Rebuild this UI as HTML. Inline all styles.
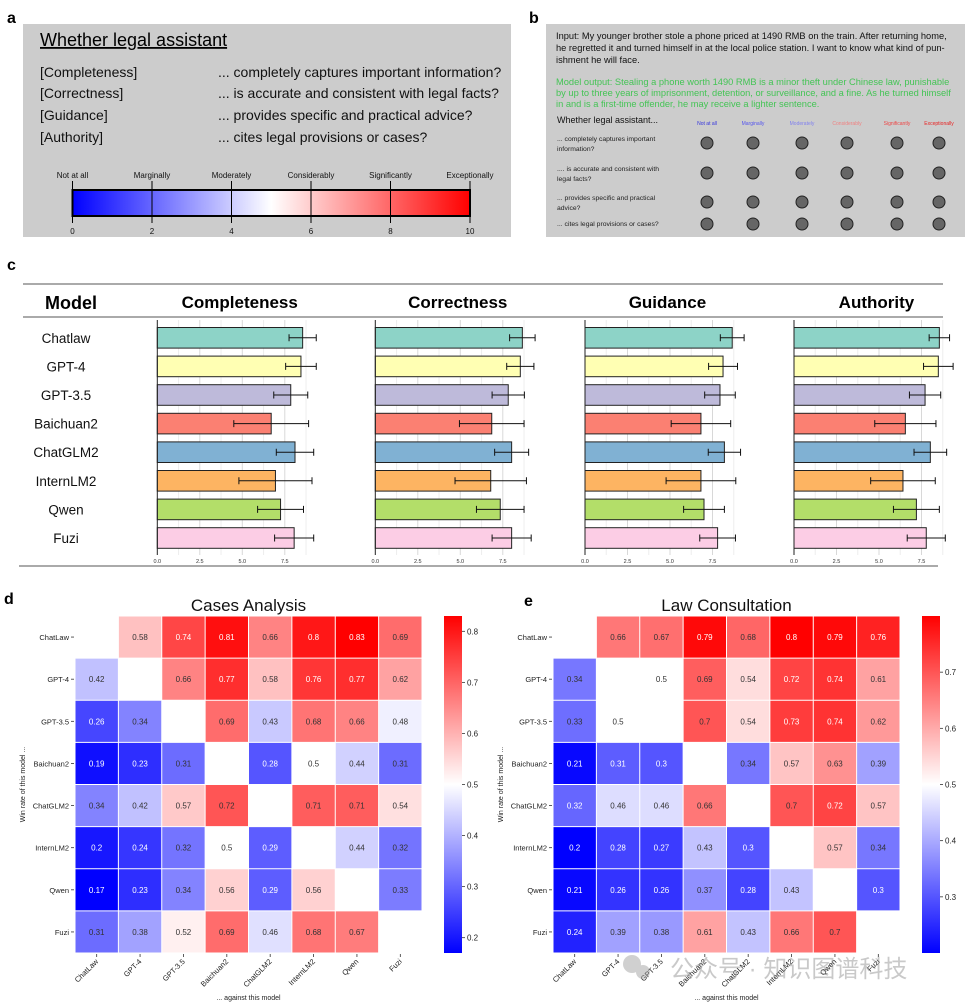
<!DOCTYPE html>
<html><head><meta charset="utf-8"><style>
html,body{margin:0;padding:0;background:#fff;}
svg{display:block;font-family:"Liberation Sans","Noto Sans CJK SC",sans-serif;}
</style></head><body>
<svg id="fig" width="967" height="1006" viewBox="0 0 967 1006" xmlns="http://www.w3.org/2000/svg">
<defs>
<linearGradient id="bwrH" x1="0" x2="1" y1="0" y2="0"><stop offset="0" stop-color="#0000ff"/><stop offset="0.5" stop-color="#ffffff"/><stop offset="1" stop-color="#ff0000"/></linearGradient>
<linearGradient id="bwrV" x1="0" x2="0" y1="1" y2="0"><stop offset="0" stop-color="#0000ff"/><stop offset="0.5" stop-color="#ffffff"/><stop offset="1" stop-color="#ff0000"/></linearGradient>
</defs>
<!-- Panel a -->
<text x="7" y="23" font-size="16" font-weight="bold">a</text>
<rect x="23" y="24" width="488" height="213" fill="#cccccc"/>
<text x="40" y="46" font-size="18" text-decoration="underline">Whether legal assistant</text>
<g font-size="14" fill="#111">
<text x="40" y="77">[Completeness]</text><text x="218" y="77">... completely captures important information?</text>
<text x="40" y="98">[Correctness]</text><text x="218" y="98">... is accurate and consistent with legal facts?</text>
<text x="40" y="120">[Guidance]</text><text x="218" y="120">... provides specific and practical advice?</text>
<text x="40" y="142">[Authority]</text><text x="218" y="142">... cites legal provisions or cases?</text>
</g>
<g id="scaleA"></g>
<!-- Panel b -->
<text x="529" y="23" font-size="16" font-weight="bold">b</text>
<rect x="546" y="24" width="419" height="213" fill="#cccccc"/>
<g font-size="9.3" fill="#111">
<text x="556" y="39">Input: My younger brother stole a phone priced at 1490 RMB on the train. After returning home,</text>
<text x="556" y="51">he regretted it and turned himself in at the local police station.  I want to know what kind of pun-</text>
<text x="556" y="63">ishment he will face.</text>
</g>
<g font-size="9.3" fill="#44c455">
<text x="556" y="85">Model output: Stealing a phone worth 1490 RMB is a minor theft under Chinese law, punishable</text>
<text x="556" y="96">by up to three years of imprisonment, detention, or surveillance, and a fine. As he turned himself</text>
<text x="556" y="107">in and is a first-time offender, he may receive a lighter sentence.</text>
</g>
<text x="557" y="123" font-size="9" fill="#111">Whether legal assistant...</text>
<g id="surveyB"></g>
<!-- Panel c -->
<text x="7" y="270" font-size="16" font-weight="bold">c</text>
<g id="panelC"></g>
<!-- Panel d/e -->
<text x="4" y="604" font-size="16" font-weight="bold">d</text>
<text x="524" y="606" font-size="16" font-weight="bold">e</text>
<g id="heatD"></g>
<g id="heatE"></g>
<g opacity="0.45">
<circle cx="632" cy="964" r="9" fill="#999"/><circle cx="643" cy="972" r="7" fill="#999"/>
<text x="670" y="977" font-size="24" fill="#888">公众号 · 知识图谱科技</text>
</g>
</svg>
<script>
// ---------- data ----------
const models = ['Chatlaw','GPT-4','GPT-3.5','Baichuan2','ChatGLM2','InternLM2','Qwen','Fuzi'];
const metrics = ['Completeness','Correctness','Guidance','Authority'];
const completeness = [8.55,8.45,7.85,6.70,8.10,6.95,7.25,8.05];
const completenessErr = [0.80,0.90,1.00,2.20,1.10,2.15,1.35,1.15];
const correctness = [8.65,8.53,7.82,6.85,8.02,6.79,7.35,8.02];
const correctnessErr = [0.75,0.80,0.95,1.90,1.00,2.10,1.40,1.15];
const guidance = [8.66,8.12,7.94,6.82,8.20,6.82,7.00,7.80];
const guidanceErr = [0.70,0.85,0.90,1.75,0.95,2.05,1.20,1.05];
const authority = [8.55,8.49,7.71,6.55,8.02,6.41,7.20,7.78];
const authorityErr = [0.60,0.87,0.92,1.80,0.96,1.90,1.35,1.12];
const barTicks = ['0.0','2.5','5.0','7.5'];
const hmLabels = ['ChatLaw','GPT-4','GPT-3.5','Baichuan2','ChatGLM2','InternLM2','Qwen','Fuzi'];
const casesAnalysis = [
 [null,.58,.74,.81,.66,.8,.83,.69],
 [.42,null,.66,.77,.58,.76,.77,.62],
 [.26,.34,null,.69,.43,.68,.66,.48],
 [.19,.23,.31,null,.28,.5,.44,.31],
 [.34,.42,.57,.72,null,.71,.71,.54],
 [.2,.24,.32,.5,.29,null,.44,.32],
 [.17,.23,.34,.56,.29,.56,null,.33],
 [.31,.38,.52,.69,.46,.68,.67,null]];
const lawConsultation = [
 [null,.66,.67,.79,.68,.8,.79,.76],
 [.34,null,.5,.69,.54,.72,.74,.61],
 [.33,.5,null,.7,.54,.73,.74,.62],
 [.21,.31,.3,null,.34,.57,.63,.39],
 [.32,.46,.46,.66,null,.7,.72,.57],
 [.2,.28,.27,.43,.3,null,.57,.34],
 [.21,.26,.26,.37,.28,.43,null,.3],
 [.24,.39,.38,.61,.43,.66,.7,null]];
const casesTicks = [0.2,0.3,0.4,0.5,0.6,0.7,0.8];
const lawTicks = [0.3,0.4,0.5,0.6,0.7];
const scaleNames = ['Not at all','Marginally','Moderately','Considerably','Significantly','Exceptionally'];
const scaleNums = [0,2,4,6,8,10];
const surveyRows = ['... completely captures important|information?',' .... is accurate and consistent with|legal facts?','... provides specific and practical|advice?','... cites legal provisions or cases?'];
const surveyColors = ['#3333dd','#5555ee','#8080ee','#f08080','#ee4444','#e82020'];

const NS='http://www.w3.org/2000/svg';
function mk(parent,tag,attrs,text){const e=document.createElementNS(NS,tag);for(const k in attrs)e.setAttribute(k,attrs[k]);if(text!==undefined)e.textContent=text;parent.appendChild(e);return e;}
function bwr(v,lo,hi){let t=(v-lo)/(hi-lo);t=Math.max(0,Math.min(1,t));let r,g,b;if(t<0.5){r=g=2*t;b=1;}else{r=1;g=b=2*(1-t);}return [r,g,b];}
function rgb(c){return 'rgb('+c.map(x=>Math.round(x*255)).join(',')+')';}

// ---------- panel a scale ----------
(function(){
 const g=document.getElementById('scaleA');
 const sx=v=>72.5+v*39.75;
 const bar=mk(g,'rect',{x:72.5,y:190,width:397.5,height:26,fill:'url(#bwrH)',stroke:'#000','stroke-width':2});
 
 
 scaleNums.forEach((n,i)=>{
  const x=sx(n);
  const l=mk(g,'line',{x1:x,x2:x,y1:181,y2:223,stroke:'#000','stroke-width':1});
  
  
  const t=mk(g,'text',{x:x,y:178,'font-size':8,'text-anchor':'middle',fill:'#111'},scaleNames[i]);
  
  
  const t2=mk(g,'text',{x:x,y:234,'font-size':8,'text-anchor':'middle',fill:'#111'},String(n));
  
  
 });
})();

// ---------- panel b survey ----------
(function(){
 const g=document.getElementById('surveyB');
 const cx=[707,753,802,847,897,939];
 const cy=[143,173,202,224];
 scaleNames.forEach((n,i)=>{
  const t=mk(g,'text',{x:cx[i],y:125,'font-size':5,'text-anchor':'middle',fill:surveyColors[i]},n);
  
  
 });
 surveyRows.forEach((r,j)=>{
  const parts=r.split('|');
  parts.forEach((p,k)=>{
   const t=mk(g,'text',{x:557,y:cy[j]-(parts.length>1?2:-2)+k*10,'font-size':6.8,fill:'#222'},p);
   
   
  });
  cx.forEach(x=>{
   const c=mk(g,'circle',{cx:x,cy:cy[j],r:6,fill:'#666',stroke:'#222','stroke-width':1});
   
   
  });
 });
})();

// ---------- panel c ----------
(function(){
 const g=document.getElementById('panelC');
 const vals=[completeness,correctness,guidance,authority];
 const errs=[completenessErr,correctnessErr,guidanceErr,authorityErr];
 const x0=[157.3,375.3,585,794];
 const unit=17;
 const colors=['#8dd3c7','#ffffb3','#bebada','#fb8072','#80b1d3','#fdb462','#b3de69','#fccde5'];
 const rowY=i=>337.8+i*28.6;
 let l=mk(g,'line',{x1:23,x2:943,y1:284,y2:284,stroke:'#777','stroke-width':1.3});
 
 
 l=mk(g,'line',{x1:23,x2:943,y1:317,y2:317,stroke:'#777','stroke-width':1.3});
 
 
 l=mk(g,'line',{x1:19,x2:938,y1:566,y2:566,stroke:'#777','stroke-width':1.3});
 
 
 let t=mk(g,'text',{x:71,y:309,'font-size':18,'font-weight':'bold','text-anchor':'middle'},'Model');
 
 
 models.forEach((m,i)=>{
  const tt=mk(g,'text',{x:66,y:rowY(i)+5,'font-size':13.5,'text-anchor':'middle',fill:'#111'},m);
  
  
 });
 metrics.forEach((name,k)=>{
  const X=v=>x0[k]+v*unit;
  const h=mk(g,'text',{x:X(4.85),y:308,'font-size':17,'font-weight':'bold','text-anchor':'middle'},name);
  
  
  for(let q=1;q<=7;q++){
   const v=q*1.25;
   const gl=mk(g,'line',{x1:X(v),x2:X(v),y1:320,y2:555,stroke:q%2?'#eeeeee':'#d8d8d8','stroke-width':1});
   
   
  }
  barTicks.forEach(s=>{
   const tk=mk(g,'text',{x:X(parseFloat(s)),y:563,'font-size':5.5,'text-anchor':'middle',fill:'#333'},s);
   
   
  });
  vals[k].forEach((v,i)=>{
   const y=rowY(i);
   const b=mk(g,'rect',{x:X(0),y:y-10.3,width:v*unit,height:20.6,fill:colors[i],stroke:'#222','stroke-width':1});
   
   
   const e=errs[k][i];
   const p=mk(g,'path',{d:`M${X(v-e)},${y}H${X(v+e)}M${X(v-e)},${y-3.5}V${y+3.5}M${X(v+e)},${y-3.5}V${y+3.5}`,stroke:'#111','stroke-width':1,fill:'none'});
   
   
  });
  const ax=mk(g,'line',{x1:X(0),x2:X(0),y1:320,y2:555,stroke:'#222','stroke-width':1});
  
  
 });
})();

// ---------- heatmaps ----------
function heatmap(id,title,data,ticks,lo,hi,x0,x1,cbx,cbw){
 const g=document.getElementById(id);
 const y0=616,y1=953;
 const cw=(x1-x0)/8,ch=(y1-y0)/8;
 const T=mk(g,'text',{x:(x0+x1)/2,y:611,'font-size':17,'text-anchor':'middle',fill:'#111'},title);
 
 
 data.forEach((row,i)=>{
  row.forEach((v,j)=>{
   if(v===null) return;
   const c=bwr(v,lo,hi);
   const r=mk(g,'rect',{x:x0+j*cw+0.5,y:y0+i*ch+0.5,width:cw-1,height:ch-1,fill:rgb(c)});
   
   
   const lum=0.2126*c[0]+0.7152*c[1]+0.0722*c[2];
   const t=mk(g,'text',{x:x0+(j+0.5)*cw,y:y0+(i+0.5)*ch+3,'font-size':8,'text-anchor':'middle',fill:lum>0.45?'#333':'#fff'},String(v));
   
   
  });
 });
 hmLabels.forEach((lab,i)=>{
  const yy=y0+(i+0.5)*ch;
  const t=mk(g,'text',{x:x0-6,y:yy+3,'font-size':7.5,'text-anchor':'end',fill:'#222'},lab);
  
  
  const tk=mk(g,'line',{x1:x0-4,x2:x0-1,y1:yy,y2:yy,stroke:'#333','stroke-width':0.8});
  
  
  const xx=x0+(i+0.5)*cw;
  const tk2=mk(g,'line',{x1:xx,x2:xx,y1:y1+1,y2:y1+4,stroke:'#333','stroke-width':0.8});
  
  
  const t2=mk(g,'text',{x:xx+2,y:y1+9,'font-size':7.5,'text-anchor':'end',fill:'#222',transform:`rotate(-45 ${xx+2} ${y1+9})`},lab);
  
  
 });
 const yl=mk(g,'text',{x:x0-50,y:(y0+y1)/2,'font-size':7,'text-anchor':'middle',fill:'#222',transform:`rotate(-90 ${x0-50} ${(y0+y1)/2})`},'Win rate of this model ...');
 
 
 const xl=mk(g,'text',{x:(x0+x1)/2,y:1000,'font-size':7,'text-anchor':'middle',fill:'#222'},'... against this model');
 
 
 const cb=mk(g,'rect',{x:cbx,y:y0,width:cbw,height:y1-y0,fill:'url(#bwrV)'});
 
 
 ticks.forEach(v=>{
  const yy=y1-(v-lo)/(hi-lo)*(y1-y0);
  const tl=mk(g,'line',{x1:cbx+cbw,x2:cbx+cbw+3,y1:yy,y2:yy,stroke:'#333','stroke-width':0.8});
  
  
  const tt=mk(g,'text',{x:cbx+cbw+5,y:yy+3,'font-size':8,fill:'#222'},String(v));
  
  
 });
}
heatmap('heatD','Cases Analysis',casesAnalysis,casesTicks,0.17,0.83,75,422,444,18);
heatmap('heatE','Law Consultation',lawConsultation,lawTicks,0.2,0.8,553,900,922,18);
</script>
</body></html>
